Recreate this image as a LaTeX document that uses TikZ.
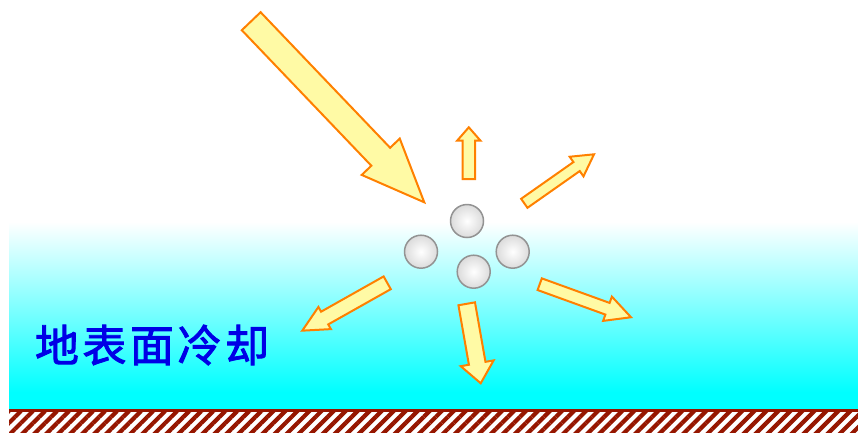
\documentclass[tikz,border=0pt]{standalone}
\usepackage{fontspec}
\usepackage{tikz}
\usetikzlibrary{patterns.meta}
\newfontfamily\cjk[FakeBold=2, LetterSpace=8]{Noto Sans CJK SC}
\definecolor{rayline}{RGB}{255,128,0}
\definecolor{rayfill}{RGB}{255,250,165}
\definecolor{groundred}{RGB}{150,22,0}
\definecolor{coolblue}{RGB}{0,0,230}
\definecolor{aqua}{RGB}{0,255,255}
\newcommand{\ray}[7]{%
  \draw[beam, shift={(#1,#2)}, rotate=#3] (0,-#5) -- ({#4-#7},-#5) -- ({#4-#7},-#6) -- (#4,0)
    -- ({#4-#7},#6) -- ({#4-#7},#5) -- (0,#5) -- cycle;}

\begin{document}
\begin{tikzpicture}[x=1pt, y=-1pt,
  beam/.style={draw=rayline, fill=rayfill, line width=2pt, line join=miter},
  particle/.style={circle, draw=gray!85, line width=1.5pt, inner color=white, outer color=gray!28, minimum size=33pt, inner sep=0pt}]
  \useasboundingbox (0,0) rectangle (858,432);
  \shade[top color=white, bottom color=aqua] (9,222) rectangle (858,392);
  \fill[aqua] (9,391.5) rectangle (858,409.5);
  \fill[white] (9,409) rectangle (858,432);
  \fill[pattern={Lines[angle=45, distance=8.5pt, line width=4.2pt]}, pattern color=groundred] (9,409) rectangle (858,432);
  \draw[groundred, line width=3pt] (9,410.5) -- (858,410.5);
  \ray{251.2}{21.2}{-46.3}{250.5}{13}{26.3}{63}
  \ray{468.8}{179}{90}{51.7}{6.2}{11.7}{13.4}
  \ray{524.3}{203.3}{35.1}{85.2}{5.5}{12}{21.3}
  \ray{539.7}{284.2}{-19.9}{97.1}{6.2}{12.9}{25}
  \ray{466.7}{303.8}{-80}{80.7}{8.4}{16.7}{20.3}
  \ray{387.2}{282.8}{209.4}{97.5}{7.3}{12.7}{25.7}
  \node[particle] (p1) at (467,221) {};
  \node[particle] (p2) at (421,251.7) {};
  \node[particle] (p3) at (512.7,251.7) {};
  \node[particle] (p4) at (473.7,271.7) {};
  \node[text=coolblue, font=\cjk\fontsize{44}{44}\selectfont, inner sep=0pt] (label) at (152,345) {地表面冷却};
\end{tikzpicture}
\end{document}
